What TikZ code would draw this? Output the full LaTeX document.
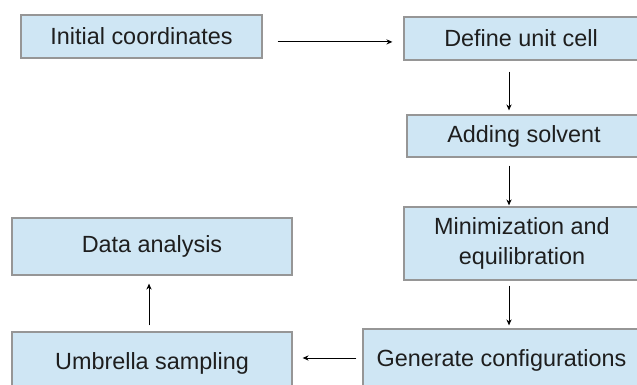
\documentclass[tikz,border=0pt]{standalone}
\usepackage{fontspec}
\setmainfont{Liberation Sans}
\usetikzlibrary{arrows.meta}
\definecolor{boxfill}{RGB}{207,230,244}
\definecolor{boxline}{RGB}{150,150,150}
\definecolor{ink}{RGB}{30,30,30}
\begin{document}
\begin{tikzpicture}[x=0.5pt, y=-0.5pt,
  stage/.style={draw=boxline, fill=boxfill, line width=0.6pt, inner sep=0pt,
    text=ink, align=center, font=\fontsize{11.7}{15}\selectfont},
  flow/.style={-{Stealth[length=3pt, width=2.6pt]}, line width=0.5pt, black}]
  \useasboundingbox (0,0) rectangle (637,385);
  \coordinate (col) at (509,0);

  \node[stage, minimum width=120.5pt, minimum height=21.5pt] (init) at (141.5,36.5) {Initial coordinates};
  \node[stage, minimum width=117pt, minimum height=21.5pt] (cell) at (521,38.5) {Define unit cell};
  \node[stage, minimum width=117pt, minimum height=21pt] (solvent) at (524,136) {Adding solvent};
  \node[stage, minimum width=118pt, minimum height=36.5pt] (equil) at (522,243.5) {Minimization and\\equilibration};
  \node[stage, minimum width=138.5pt, minimum height=31pt] (configs) at (501.5,360) {Generate configurations};
  \node[stage, minimum width=140pt, minimum height=31pt] (umbrella) at (152,363) {Umbrella sampling};
  \node[stage, minimum width=140pt, minimum height=28.5pt] (analysis) at (152,246.5) {Data analysis};

  \draw[flow, shorten <=7.5pt, shorten >=5.5pt] ([yshift=-2.7pt]init.east) -- ([yshift=-2.7pt]init.east -| cell.west);
  \draw[flow, shorten <=5.5pt, shorten >=2pt] (cell.south -| col) -- (solvent.north -| col);
  \draw[flow, shorten <=4pt, shorten >=0.5pt] (solvent.south -| col) -- (equil.north -| col);
  \draw[flow, shorten <=2.5pt, shorten >=1.5pt] (equil.south -| col) -- (configs.north -| col);
  \draw[flow, shorten <=3pt, shorten >=5pt] ([yshift=1pt]configs.west) -- ([yshift=1pt]configs.west -| umbrella.east);
  \draw[flow, shorten <=3pt, shorten >=4pt] ([xshift=-1.5pt]umbrella.north) -- ([xshift=-1.5pt]umbrella.north |- analysis.south);
\end{tikzpicture}
\end{document}
